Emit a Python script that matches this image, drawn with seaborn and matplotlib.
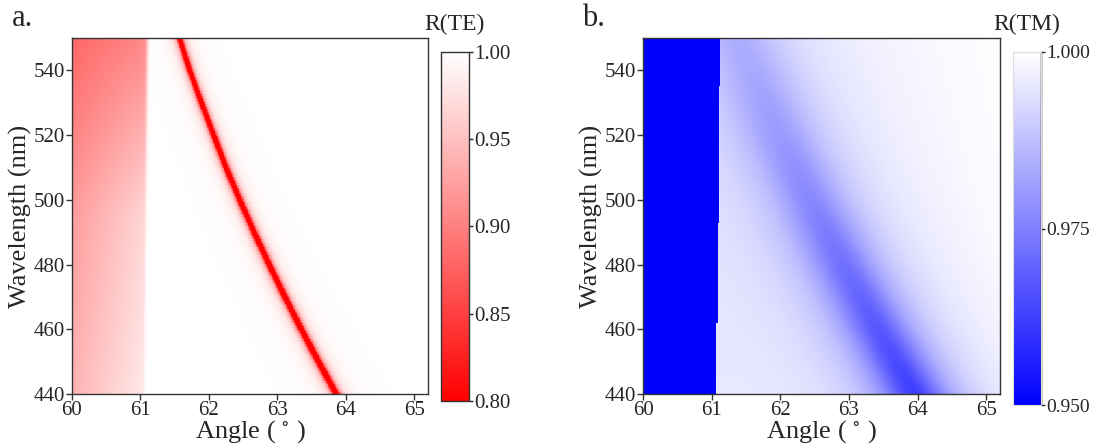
import numpy as np
import pandas as pd
import seaborn as sns
import matplotlib
matplotlib.use("Agg")
import matplotlib.pyplot as plt
from matplotlib.colors import LinearSegmentedColormap

# ---------------- data ----------------
angle_ticks = [60, 61, 62, 63, 64, 65]
wl_ticks = [440, 460, 480, 500, 520, 540]
angle_range = [60.0, 65.2]
wl_range = [440.0, 550.0]

# TE panel: resonance (sharp dip) position vs wavelength
te_wl = [440, 450, 460, 470, 480, 490, 500, 510, 520, 530, 540, 550]
te_res_angle = [63.86, 63.60, 63.35, 63.11, 62.88, 62.66, 62.45, 62.25, 62.07, 61.89, 61.72, 61.57]
te_res_width = [0.042, 0.041, 0.040, 0.039, 0.038, 0.037, 0.036, 0.035, 0.034, 0.033, 0.032, 0.032]
te_res_depth = 0.35
te_crit_wl = [440, 550]
te_crit_angle = [61.06, 61.10]
# TE below critical angle: value at 60 deg and at 61 deg
te_left_wl = [440, 495, 550]
te_left_at60 = [0.94, 0.922, 0.880]
te_left_at61 = [0.98, 0.965, 0.905]

# TM panel: broad dip
tm_wl = [440, 460, 480, 500, 520, 540, 550]
tm_res_angle = [63.96, 63.43, 62.92, 62.45, 62.00, 61.60, 61.40]
tm_res_min = [0.962, 0.967, 0.972, 0.9765, 0.980, 0.983, 0.984]
tm_res_width = [0.50, 0.52, 0.55, 0.58, 0.62, 0.65, 0.65]
tm_bg = [0.9965, 1.0]          # background at critical angle and at 65.2 deg
tm_crit_edges = [440, 462, 493, 535, 550]
tm_crit_angle = [61.07, 61.09, 61.11, 61.13]
tm_below = 0.90

# ---------------- build fields ----------------
nx, ny = 521, 221
dth = (angle_range[1] - angle_range[0]) / nx
dwl = (wl_range[1] - wl_range[0]) / ny
theta = angle_range[0] + (np.arange(nx) + 0.5) * dth
wl = wl_range[0] + (np.arange(ny) + 0.5) * dwl
TH, WL = np.meshgrid(theta, wl)

# TE
c_te = np.interp(WL, te_crit_wl, te_crit_angle)
a60 = np.interp(WL, te_left_wl, te_left_at60)
a61 = np.interp(WL, te_left_wl, te_left_at61)
left = a60 + (a61 - a60) * (TH - 60.0)
s = 1.0 / (1.0 + np.exp((TH - c_te) / 0.012))
t0 = np.interp(WL, te_wl, te_res_angle)
g = np.interp(WL, te_wl, te_res_width)
right = 1.0 - te_res_depth * g**2 / ((TH - t0)**2 + g**2)
R_te = s * left + (1 - s) * right

# TM
idx = np.clip(np.searchsorted(tm_crit_edges, wl, side="right") - 1, 0, len(tm_crit_angle) - 1)
c_tm = np.array(tm_crit_angle)[idx][:, None] * np.ones_like(TH)
bg = tm_bg[0] + (tm_bg[1] - tm_bg[0]) * (TH - 61.1) / (angle_range[1] - 61.1)
t0m = np.interp(WL, tm_wl, tm_res_angle)
gm = np.interp(WL, tm_wl, tm_res_width)
mn = np.interp(WL, tm_wl, tm_res_min)
bg0 = tm_bg[0] + (tm_bg[1] - tm_bg[0]) * (t0m - 61.1) / (angle_range[1] - 61.1)
D = bg0 - mn
R_tm = bg - D * gm**2 / ((TH - t0m)**2 + gm**2)
R_tm = np.where(TH < c_tm, tm_below, R_tm)

df_te = pd.DataFrame(R_te, index=wl, columns=theta)
df_tm = pd.DataFrame(R_tm, index=wl, columns=theta)

# ---------------- plot ----------------
sns.set_style("ticks")
plt.rcParams["font.family"] = ["Liberation Serif", "DejaVu Serif"]
plt.rcParams["mathtext.fontset"] = "stix"

W, H = 1093, 445
fig = plt.figure(figsize=(W / 100, H / 100), dpi=100)

def fa(x0, y0, x1, y1):
    return [x0 / W, 1 - y1 / H, (x1 - x0) / W, (y1 - y0) / H]

ax1 = fig.add_axes(fa(72, 38, 428, 394))
cax1 = fig.add_axes(fa(441, 52, 469, 401))
ax2 = fig.add_axes(fa(643, 38, 1000, 394))
cax2 = fig.add_axes(fa(1013, 52, 1041, 405))

cmap_te = LinearSegmentedColormap.from_list("te", ["#ff0000", "#ffffff"])
cmap_tm = LinearSegmentedColormap.from_list("tm", ["#0000ff", "#ffffff"])

sns.heatmap(df_te, ax=ax1, cmap=cmap_te, vmin=0.80, vmax=1.00, cbar_ax=cax1,
            xticklabels=False, yticklabels=False, rasterized=True)
sns.heatmap(df_tm, ax=ax2, cmap=cmap_tm, vmin=0.95, vmax=1.00, cbar_ax=cax2,
            xticklabels=False, yticklabels=False, rasterized=True)

TICK = 15
for ax in (ax1, ax2):
    ax.set_ylim(0, ny)
    ax.set_xlim(0, nx)
    ax.set_xticks([(v - angle_range[0]) / dth for v in angle_ticks])
    ax.set_xticklabels([str(v) for v in angle_ticks], rotation=0, fontsize=TICK)
    ax.set_yticks([(v - wl_range[0]) / dwl for v in wl_ticks])
    ax.set_yticklabels([str(v) for v in wl_ticks], rotation=0, fontsize=TICK)
    for sp in ax.spines.values():
        sp.set_visible(True)
        sp.set_color("#333333")
        sp.set_linewidth(1.0)
    ax.tick_params(direction="out", length=4, width=1, color="#333333", pad=1,
                   bottom=True, left=True, top=False, right=False)
    ax.set_xlabel("Angle ( $^{\\circ}$ )", fontsize=19, labelpad=-1)
    ax.set_ylabel("Wavelength (nm)", fontsize=19, labelpad=1)

cb1 = ax1.collections[0].colorbar
cb1.set_ticks([0.80, 0.85, 0.90, 0.95, 1.00])
cb1.set_ticklabels(["0.80", "0.85", "0.90", "0.95", "1.00"])
cb1.outline.set_visible(True)
cb1.outline.set_edgecolor("#333333")
cb1.outline.set_linewidth(1.0)
cax1.tick_params(labelsize=TICK, length=3, width=1, pad=1)
cax1.set_title("R(TE)", fontsize=17, pad=16)

cb2 = ax2.collections[0].colorbar
cb2.set_ticks([0.950, 0.975, 1.000])
cb2.set_ticklabels(["0.950", "0.975", "1.000"])
cb2.outline.set_visible(True)
cb2.outline.set_edgecolor("#dddddd")
cb2.outline.set_linewidth(0.8)
cax2.plot([1, 1], [0, 1], transform=cax2.transAxes, color="black", lw=1.0, clip_on=False)
cax2.tick_params(labelsize=14, length=3, width=1, pad=0.5)
cax2.set_title("R(TM)", fontsize=17, pad=16)

fig.text(12 / W, 1 - 18 / H, "a.", fontsize=22, va="center", ha="left")
fig.text(582 / W, 1 - 18 / H, "b.", fontsize=22, va="center", ha="left")

fig.savefig("out.png", dpi=100)
